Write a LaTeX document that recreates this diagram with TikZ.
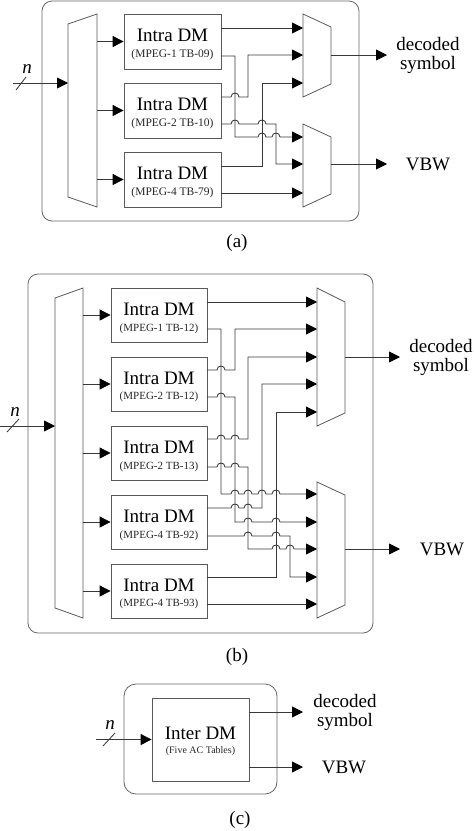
\documentclass[tikz,border=0pt]{standalone}
\usepackage{fontspec}
\setmainfont{Liberation Serif}
\usetikzlibrary{arrows.meta}
\begin{document}
\begin{tikzpicture}[x=1pt,y=-1pt,
  wire/.style={draw=black!78,line width=0.85pt},
  arr/.style={wire,-{Triangle[length=11pt,width=11pt,color=black]}},
  blkA/.style={draw=black!65,line width=0.8pt,minimum width=97pt,minimum height=55pt,inner sep=0pt},
  blkB/.style={draw=black!65,line width=0.8pt,minimum width=96pt,minimum height=54pt,inner sep=0pt},
  mux/.style={draw=black!65,line width=0.8pt},
  frame/.style={draw=black!60,line width=0.8pt,rounded corners=10pt},
  big/.style={inner sep=0pt,font=\fontsize{19}{20}\selectfont},
  subA/.style={inner sep=0pt,text=black!85,font=\fontsize{11.5}{12}\selectfont},
  subB/.style={inner sep=0pt,text=black!85,font=\fontsize{11}{12}\selectfont},
  lbl/.style={inner sep=0pt,align=center,font=\fontsize{19}{19}\selectfont},
  hop/.style 2 args={insert path={-- (#1-4,#2) .. controls (#1-4,#2-5.3) and (#1+4,#2-5.3) .. (#1+4,#2)}}
]
\useasboundingbox (0,0) rectangle (474,831);

% ================= (a) =================
\draw[frame] (42,1) rectangle (359,221);
\draw[mux] (68,24) -- (97,14) -- (97,207) -- (68,197) -- cycle;
\draw[mux] (303,14) -- (331,27) -- (331,84) -- (303,97) -- cycle;
\draw[mux] (303,124) -- (331,137) -- (331,194) -- (303,207) -- cycle;
\coordinate (aIn) at (13,83);
\coordinate (aDx) at (68,83);
\draw[arr] (aIn) -- (aDx);
\draw[wire] (16,90) -- (26,77);
\node[inner sep=0pt,font=\fontsize{19}{19}\selectfont\itshape] (an) at (27,69) {n};

\node[blkA] (a1) at (172.5,41.5) {};
\node[blkA] (a2) at (172.5,110.5) {};
\node[blkA] (a3) at (172.5,179.5) {};
\node[big] (a1t) at (172.5,35) {Intra DM};
\node[subA] (a1s) at (172.5,55) {(MPEG-1 TB-09)};
\node[big] (a2t) at (172.5,104) {Intra DM};
\node[subA] (a2s) at (172.5,124) {(MPEG-2 TB-10)};
\node[big] (a3t) at (172.5,173) {Intra DM};
\node[subA] (a3s) at (172.5,193) {(MPEG-4 TB-79)};
\draw[arr] (97,41.5) -- (a1.west);
\draw[arr] (97,110.5) -- (a2.west);
\draw[arr] (97,179.5) -- (a3.west);

\coordinate (a1o1) at (221,28);  \coordinate (a1o2) at (221,56);
\coordinate (a2o1) at (221,97);  \coordinate (a2o2) at (221,124);
\coordinate (a3o1) at (221,166); \coordinate (a3o2) at (221,193);
\coordinate (m1i1) at (303,28);  \coordinate (m1i2) at (303,55); \coordinate (m1i3) at (303,83);
\coordinate (m2i1) at (303,137); \coordinate (m2i2) at (303,164); \coordinate (m2i3) at (303,193);

\draw[arr] (a1o1) -- (m1i1);
\draw[arr] (a1o2) -- (235,56) -- (235,137) [hop={262}{137}] [hop={276}{137}] -- (m2i1);
\draw[arr] (a2o1) [hop={235}{97}] -- (248,97) -- (248,55) -- (m1i2);
\draw[arr] (a2o2) [hop={235}{124}] [hop={262}{124}] -- (276,124) -- (276,164) -- (m2i2);
\draw[arr] (a3o1) -- (262,166) -- (262,83) -- (m1i3);
\draw[arr] (a3o2) -- (m2i3);

\coordinate (aO1) at (387,55);
\coordinate (aO2) at (387,164);
\draw[arr] (331,55) -- (aO1);
\draw[arr] (331,164) -- (aO2);
\node[lbl] (aDec) at (428,55) {decoded\\symbol};
\node[lbl] (aVBW) at (428,164) {VBW};
\node[lbl] (capA) at (237,243) {(a)};

% ================= (b) =================
\draw[frame] (28,274) rectangle (373,633);
\draw[mux] (55,298) -- (83,288) -- (83,618) -- (55,608) -- cycle;
\draw[mux] (317,288) -- (345,302) -- (345,413) -- (317,426) -- cycle;
\draw[mux] (317,482) -- (345,495) -- (345,605) -- (317,618) -- cycle;
\coordinate (bIn) at (0,426);
\coordinate (bDx) at (55,426);
\draw[arr] (bIn) -- (bDx);
\draw[wire] (7,432) -- (19,419);
\node[inner sep=0pt,font=\fontsize{19}{19}\selectfont\itshape] (bn) at (15,412) {n};

\node[blkB] (b1) at (159,315) {};
\node[blkB] (b2) at (159,384) {};
\node[blkB] (b3) at (159,453) {};
\node[blkB] (b4) at (159,522) {};
\node[blkB] (b5) at (159,591) {};
\node[big] (b1t) at (159,309) {Intra DM};
\node[subB] (b1s) at (159,329) {(MPEG-1 TB-12)};
\node[big] (b2t) at (159,378) {Intra DM};
\node[subB] (b2s) at (159,397) {(MPEG-2 TB-12)};
\node[big] (b3t) at (159,447) {Intra DM};
\node[subB] (b3s) at (159,467) {(MPEG-2 TB-13)};
\node[big] (b4t) at (159,516) {Intra DM};
\node[subB] (b4s) at (159,536) {(MPEG-4 TB-92)};
\node[big] (b5t) at (159,585) {Intra DM};
\node[subB] (b5s) at (159,604) {(MPEG-4 TB-93)};
\draw[arr] (83,315) -- (b1.west);
\draw[arr] (83,384) -- (b2.west);
\draw[arr] (83,453) -- (b3.west);
\draw[arr] (83,522) -- (b4.west);
\draw[arr] (83,591) -- (b5.west);

\coordinate (b1o1) at (207,302); \coordinate (b1o2) at (207,329);
\coordinate (b2o1) at (207,370); \coordinate (b2o2) at (207,397);
\coordinate (b3o1) at (207,439); \coordinate (b3o2) at (207,467);
\coordinate (b4o1) at (207,508); \coordinate (b4o2) at (207,536);
\coordinate (b5o1) at (207,577); \coordinate (b5o2) at (207,604);
\coordinate (n1i1) at (317,302); \coordinate (n1i2) at (317,329); \coordinate (n1i3) at (317,357);
\coordinate (n1i4) at (317,384); \coordinate (n1i5) at (317,412);
\coordinate (n2i1) at (317,494); \coordinate (n2i2) at (317,522); \coordinate (n2i3) at (317,549);
\coordinate (n2i4) at (317,577); \coordinate (n2i5) at (317,604);

\draw[arr] (b1o1) -- (n1i1);
\draw[arr] (b1o2) -- (221,329) -- (221,494) [hop={235}{494}] [hop={248}{494}] [hop={262}{494}] [hop={276}{494}] -- (n2i1);
\draw[arr] (b2o1) [hop={221}{370}] -- (235,370) -- (235,329) -- (n1i2);
\draw[arr] (b2o2) [hop={221}{397}] -- (235,397) -- (235,522) [hop={248}{522}] [hop={276}{522}] -- (n2i2);
\draw[arr] (b3o1) [hop={221}{439}] [hop={235}{439}] -- (248,439) -- (248,357) -- (n1i3);
\draw[arr] (b3o2) [hop={221}{467}] [hop={235}{467}] -- (248,467) -- (248,549) [hop={276}{549}] [hop={290}{549}] -- (n2i3);
\draw[arr] (b4o1) [hop={235}{508}] [hop={248}{508}] -- (262,508) -- (262,384) -- (n1i4);
\draw[arr] (b4o2) [hop={248}{536}] [hop={276}{536}] -- (290,536) -- (290,577) -- (n2i4);
\draw[arr] (b5o1) -- (276,577) -- (276,412) -- (n1i5);
\draw[arr] (b5o2) -- (n2i5);

\coordinate (bO1) at (400,357);
\coordinate (bO2) at (400,549);
\draw[arr] (345,357) -- (bO1);
\draw[arr] (345,549) -- (bO2);
\node[lbl] (bDec) at (441,357) {decoded\\symbol};
\node[lbl] (bVBW) at (442,549) {VBW};
\node[lbl] (capB) at (237,657) {(b)};

% ================= (c) =================
\draw[frame,rounded corners=12pt] (124,684) rectangle (277,794);
\node[draw=black!65,line width=0.8pt,minimum width=97pt,minimum height=83pt,inner sep=0pt] (c1) at (200.5,739.5) {};
\node[big] (c1t) at (200.5,733) {Inter DM};
\node[inner sep=0pt,text=black!85,font=\fontsize{10}{11}\selectfont] (c1s) at (200.5,751) {(Five AC Tables)};
\coordinate (cIn) at (96,739.5);
\draw[arr] (cIn) -- (c1.west);
\draw[wire] (103,746) -- (115,733);
\node[inner sep=0pt,font=\fontsize{19}{19}\selectfont\itshape] (cn) at (110,725) {n};
\coordinate (cO1) at (303,712);
\coordinate (cO2) at (303,767);
\draw[arr] (249,712) -- (cO1);
\draw[arr] (249,767) -- (cO2);
\node[lbl] (cDec) at (345,712) {decoded\\symbol};
\node[lbl] (cVBW) at (344,767) {VBW};
\node[lbl] (capC) at (240,820) {(c)};
\end{tikzpicture}
\end{document}
